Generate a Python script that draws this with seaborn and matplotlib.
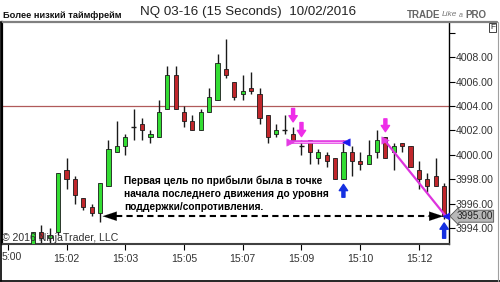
import numpy as np
import matplotlib
matplotlib.use("Agg")
import matplotlib.pyplot as plt
import matplotlib.transforms as mtransforms
from matplotlib.lines import Line2D
import seaborn as sns

# ---------------- data ----------------
opens = [3992.5, 3993.75, 3993.25, 3993.75, 3998.75, 3998.0, 3996.5, 3995.75, 3995.25, 3997.5,
         4000.25, 4000.75, 4002.25, 4002.5, 4001.5, 4001.5, 4003.75, 4006.5, 4003.5, 4002.75,
         4002.0, 4003.5, 4004.5, 4007.0, 4006.0, 4005.0, 4005.5, 4005.0, 4003.25, 4001.75,
         4002.0, 4001.75, 4000.75, 4001.25, 3999.75, 4000.0, 3999.75, 3998.0, 4000.25, 3999.5,
         3999.25, 4000.25, 4001.5, 4000.25, 4001.0, 4000.75, 3998.75, 3998.0, 3998.25, 3997.5]
closes = [3993.75, 3993.25, 3993.5, 3998.5, 3998.0, 3996.75, 3995.75, 3995.25, 3997.75, 4000.5,
          4000.75, 4001.5, 4002.25, 4002.0, 4001.75, 4003.5, 4006.5, 4003.75, 4002.75, 4002.0,
          4003.5, 4004.75, 4007.5, 4006.5, 4004.75, 4005.25, 4005.25, 4003.0, 4001.5, 4002.0,
          4002.0, 4001.25, 4000.75, 4000.25, 4000.25, 3999.5, 3998.0, 4000.25, 3999.5, 3999.25,
          4000.0, 4001.25, 3999.75, 4000.75, 4000.75, 3999.0, 3998.0, 3997.5, 3997.5, 3995.0]
highs = [3993.75, 3994.25, 3994.0, 3998.5, 3999.75, 3998.25, 3996.5, 3996.0, 3997.75, 4001.25,
         4002.75, 4001.75, 4003.75, 4003.0, 4002.0, 4004.5, 4007.25, 4007.25, 4004.0, 4003.25,
         4003.75, 4005.5, 4008.25, 4009.5, 4006.0, 4006.5, 4006.75, 4005.5, 4003.25, 4002.5,
         4003.25, 4002.25, 4001.25, 4001.25, 4000.5, 4000.25, 3999.75, 4001.25, 4000.75, 4000.25,
         4001.25, 4002.0, 4001.5, 4001.0, 4001.0, 4000.75, 3999.5, 3998.5, 3999.75, 3997.75]
lows = [3992.25, 3992.75, 3992.5, 3993.5, 3997.25, 3996.0, 3995.5, 3995.0, 3994.5, 3997.5,
        4000.25, 4000.0, 4001.25, 4001.25, 4001.0, 4001.5, 4003.75, 4003.75, 4002.25, 4002.0,
        4002.0, 4003.5, 4004.5, 4006.25, 4004.5, 4004.5, 4005.0, 4002.5, 4001.0, 4001.5,
        4001.75, 4001.25, 4000.0, 3999.25, 3999.25, 3999.0, 3998.0, 3998.0, 3998.25, 3998.75,
        3999.25, 3999.75, 3999.75, 3998.75, 4000.25, 3999.0, 3997.25, 3997.0, 3997.5, 3994.75]

time_ticks = [-3, 4, 11, 18, 25, 32, 39, 46]
time_labels = ["5:00", "15:02", "15:03", "15:05", "15:07", "15:09", "15:10", "15:12"]
price_ticks = [3994, 3996, 3998, 4000, 4002, 4004, 4006, 4008, 4010]
price_labels = ["3994.00", "3996.00", "3998.00", "4000.00", "4002.00", "4004.00",
                "4006.00", "4008.00", ""]

level_line = 4004.0
last_price = 3995.0
target_level = 3995.0
note_text = ("Первая цель по прибыли была в точке\n"
             "начала последнего движения до уровня\n"
             "поддержки/сопротивления.")
title_left = "Более низкий таймфрейм"
title_main = "NQ 03-16 (15 Seconds)  10/02/2016"
copyright_text = "© 2016 NinjaTrader, LLC"

# drawn objects (index, price)
hline_seg = ([30.6, 37.3], [4001.1, 4001.1])
diag_seg = ([41.9, 49.2], [4001.2, 3995.0])
dashed_seg = ([8.3, 48.9], [3995.0, 3995.0])
up_arrows = [(37, 3996.55, 3997.6), (49, 3993.2, 3994.45)]
down_arrows = [(31, 4003.8, 4002.7), (32, 4002.65, 4001.5), (42, 4002.95, 4001.9)]

# ---------------- style ----------------
sns.set_theme(style="white")
plt.rcParams["font.family"] = ["Liberation Sans", "DejaVu Sans"]

W, H = 500, 282
fig = plt.figure(figsize=(W / 100, H / 100), dpi=100)
fig.patch.set_facecolor("white")
ax = fig.add_axes([2 / W, (H - 244) / H, (449 - 2) / W, (244 - 22) / H])
ax.set_facecolor("white")

n = len(opens)
x = np.arange(n)
o = np.array(opens); c = np.array(closes); hi = np.array(highs); lo = np.array(lows)

UP = "#33dd33"
DOWN = "#c0262b"
EDGE = "#1a1a1a"
bw = 0.5

# level line
ax.axhline(level_line, color="#b05a5a", lw=0.9, zorder=1)

# wicks
ax.vlines(x, lo, hi, color=EDGE, lw=1.0, zorder=2)
# bodies
up = c > o
dn = c < o
dj = c == o
ax.bar(x[up], (c - o)[up], bottom=o[up], width=bw, color=UP, edgecolor=EDGE, lw=0.6, zorder=3)
ax.bar(x[dn], (o - c)[dn], bottom=c[dn], width=bw, color=DOWN, edgecolor=EDGE, lw=0.6, zorder=3)
ax.hlines(c[dj], x[dj] - 0.3, x[dj] + 0.3, color=EDGE, lw=1.0, zorder=3)

# magenta lines
ax.plot(hline_seg[0], hline_seg[1], color="#e33ce3", lw=2.6, zorder=5, solid_capstyle="butt")
ax.plot(hline_seg[0], hline_seg[1], color="#f6a8f6", lw=0.8, zorder=5)
ax.plot(diag_seg[0], diag_seg[1], color="#dd33dd", lw=1.6, zorder=5)
start_x = [hline_seg[0][0], diag_seg[0][0]]
start_y = [hline_seg[1][0], diag_seg[1][0]]
end_x = [hline_seg[0][1], diag_seg[0][1]]
end_y = [hline_seg[1][1], diag_seg[1][1]]
sns.scatterplot(x=start_x, y=start_y, marker=">", s=28, color="#e33ce3",
                edgecolor="#e33ce3", ax=ax, zorder=6, legend=False)
sns.scatterplot(x=end_x, y=end_y, marker="<", s=28, color="#1a1aee",
                edgecolor="#1a1aee", ax=ax, zorder=6, legend=False)

# dashed target line with arrowheads
ax.plot([dashed_seg[0][0] + 1.6, dashed_seg[0][1] - 1.6], dashed_seg[1], color="black",
        lw=1.5, ls=(0, (3, 2)), zorder=4)
for tip, tail in [(dashed_seg[0][0], dashed_seg[0][0] + 2.0),
                  (dashed_seg[0][1], dashed_seg[0][1] - 2.0)]:
    ax.annotate("", xy=(tip, target_level), xytext=(tail, target_level),
                arrowprops=dict(arrowstyle="-|>,head_length=1.0,head_width=0.33",
                                color="black", lw=0.1, shrinkA=0, shrinkB=0,
                                mutation_scale=10), zorder=6)

# blue up arrows
for xi, y0, y1 in up_arrows:
    ax.annotate("", xy=(xi, y1), xytext=(xi, y0),
                arrowprops=dict(arrowstyle="simple,head_length=0.45,head_width=0.6,tail_width=0.22",
                                color="#1530e0", shrinkA=0, shrinkB=0, mutation_scale=10),
                zorder=7)
# magenta down arrows
for xi, y0, y1 in down_arrows:
    ax.annotate("", xy=(xi, y1), xytext=(xi, y0),
                arrowprops=dict(arrowstyle="simple,head_length=0.45,head_width=0.6,tail_width=0.22",
                                color="#ee2ee8", shrinkA=0, shrinkB=0, mutation_scale=10),
                zorder=7)

# note text
ax.text(10.9, 3998.35, note_text, fontsize=7.3, fontweight="bold", color="black",
        va="top", ha="left", linespacing=1.4, zorder=8)

# copyright
ax.text(0.0, 0.004, copyright_text, transform=ax.transAxes, fontsize=7.6, color="#303030",
        ha="left", va="bottom", zorder=9)

# axes limits / ticks
ax.set_xlim(-3.69, 49.58)
ax.set_ylim(3992.73, 4010.86)
ax.yaxis.tick_right()
ax.set_yticks(price_ticks)
ax.set_yticklabels(price_labels)
ax.set_xticks(time_ticks)
ax.set_xticklabels([""] + time_labels[1:])
ax.tick_params(axis="y", which="both", direction="out", length=4, width=0.8, pad=1,
               labelsize=7.6, labelcolor="#333333", color="black", right=True, left=False)
ax.tick_params(axis="x", direction="out", length=4, width=0.8, pad=3,
               labelsize=7.6, labelcolor="#333333", color="black", bottom=True)
ax.spines["top"].set_visible(False)
ax.spines["left"].set_color("black"); ax.spines["left"].set_linewidth(1.6)
ax.spines["right"].set_color("black"); ax.spines["right"].set_linewidth(1.0)
ax.spines["bottom"].set_color("#404040"); ax.spines["bottom"].set_linewidth(1.5)
ax.grid(False)

# last price marker
trans = mtransforms.blended_transform_factory(ax.transAxes, ax.transData)
ax.text(1.016, last_price, "3995.00", transform=trans, fontsize=7.2, color="#222222",
        ha="left", va="center", clip_on=False, zorder=10,
        bbox=dict(boxstyle="larrow,pad=0.1", fc="#b8b8b8", ec="#505050", lw=0.6))

# figure frame / header
def fx(px):
    return px / W
def fy(py):
    return 1 - py / H

fig.add_artist(Line2D([0, fx(497)], [fy(22), fy(22)], color="#808080", lw=1.6))
fig.add_artist(Line2D([fx(1), fx(1)], [fy(22), fy(281)], color="black", lw=1.2))
fig.add_artist(Line2D([0, 1], [fy(281), fy(281)], color="black", lw=1.2))
fig.add_artist(Line2D([fx(498), fx(498)], [fy(22), fy(281)], color="#a0a0a0", lw=0.8))

# first (partly hidden) time label
fig.text(fx(2), fy(257.5), time_labels[0], fontsize=7.6, color="#333333", ha="left", va="center")

fig.text(fx(3), fy(15.5), title_left, fontsize=6.7, fontweight="bold", color="#111111",
         ha="left", va="center")
fig.text(fx(140), fy(12), title_main, fontsize=9.6, color="#222222", ha="left", va="center")
fig.text(fx(407), fy(15), "TRADE", fontsize=7.0, fontweight="bold", color="#666666",
         ha="left", va="center")
fig.text(fx(442), fy(15), "Like", fontsize=6.0, style="italic", color="#777777",
         ha="left", va="center")
fig.text(fx(458.5), fy(15.5), "a", fontsize=5.0, style="italic", color="#777777",
         ha="left", va="center")
fig.text(fx(465), fy(15), "PRO", fontsize=7.0, fontweight="bold", color="#666666",
         ha="left", va="center")
fig.text(fx(492.5), fy(27.5), "F", fontsize=6.0, color="#222222", ha="center", va="center",
         bbox=dict(boxstyle="square,pad=0.15", fc="white", ec="#404040", lw=0.7))

fig.savefig("out.png", dpi=100)
